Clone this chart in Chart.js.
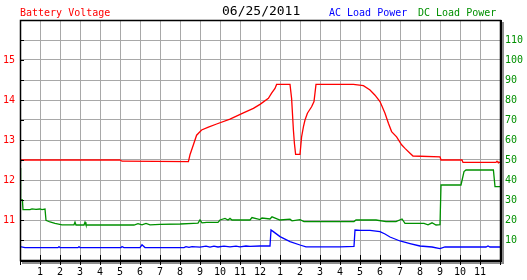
<!DOCTYPE html>
<html>
<head>
<meta charset="utf-8">
<script src="https://cdn.jsdelivr.net/npm/chart.js@4/dist/chart.umd.min.js"></script>
<style>
  body { margin: 0; background: #fff; }
  #wrap { position: relative; width: 527px; height: 280px; font-family: "DejaVu Sans Mono", monospace; }
  #chart { position: absolute; left: 0; top: 0; }
  .hdr { position: absolute; font-size: 10px; line-height: 10px; white-space: nowrap; }
</style>
</head>
<body>
<div id="wrap">
  <canvas id="chart" width="527" height="280"></canvas>
  <div class="hdr" style="left:20px;top:8px;color:#ff0000">Battery Voltage</div>
  <div class="hdr" style="left:222px;top:4px;font-size:13px;line-height:13px;color:#000">06/25/2011</div>
  <div class="hdr" style="left:329px;top:8px;color:#0000ff">AC Load Power</div>
  <div class="hdr" style="left:418px;top:8px;color:#009000">DC Load Power</div>
</div>
<script>
// tick labels
const hourTicks = ['', '1', '2', '3', '4', '5', '6', '7', '8', '9', '10', '11', '12',
                   '1', '2', '3', '4', '5', '6', '7', '8', '9', '10', '11', ''];
const voltTicks = [11, 12, 13, 14, 15];
const powerTicks = [10, 20, 30, 40, 50, 60, 70, 80, 90, 100, 110];

// battery voltage (left axis, V) against hour of day
const voltHours = [0, 0.03, 5.0, 5.1, 8.42, 8.5, 8.67, 8.83, 9.08, 9.42, 9.83, 10.5, 11.17, 11.67,
                   12.0, 12.42, 12.58, 12.75, 12.83, 13.5, 13.58, 13.67, 13.72, 13.78, 14.0, 14.08,
                   14.17, 14.25, 14.37, 14.58, 14.7, 14.8, 16.67, 17.17, 17.5, 17.75, 18.0, 18.25,
                   18.42, 18.58, 18.83, 19.08, 19.25, 19.5, 19.65, 21.0, 21.05, 22.1, 22.15, 23.8,
                   23.85, 23.9, 24];
const voltValues = [12.45, 12.5, 12.5, 12.47, 12.46, 12.63, 12.88, 13.12, 13.25, 13.32, 13.4, 13.52,
                    13.68, 13.79, 13.89, 14.04, 14.17, 14.29, 14.39, 14.39, 14.04, 13.25, 12.92, 12.64,
                    12.64, 13.08, 13.33, 13.5, 13.67, 13.83, 13.96, 14.39, 14.39, 14.36, 14.25, 14.12,
                    13.96, 13.67, 13.42, 13.21, 13.08, 12.88, 12.79, 12.67, 12.6, 12.58, 12.5, 12.5,
                    12.44, 12.44, 12.47, 12.44, 12.44];

// AC load power (right axis, W)
const acHours = [0, 0.25, 1.9, 1.95, 2.0, 2.9, 2.95, 3.0, 5.05, 5.1, 5.2, 6.0, 6.1, 6.25, 8.2, 8.3,
                 8.45, 8.6, 9.0, 9.3, 9.5, 9.7, 9.9, 10.2, 10.5, 10.8, 11.0, 11.3, 11.5, 12.0, 12.5,
                 12.55, 12.65, 13.0, 13.5, 14.0, 14.3, 16.0, 16.7, 16.75, 17.0, 17.5, 18.0, 18.25,
                 18.5, 19.0, 19.5, 20.0, 20.6, 21.0, 21.25, 23.3, 23.4, 23.5, 24];
const acValues = [6.7, 6.2, 6.2, 6.7, 6.2, 6.2, 6.7, 6.2, 6.2, 6.7, 6.2, 6.2, 7.6, 6.2, 6.2, 6.7,
                  6.3, 6.7, 6.4, 6.9, 6.4, 6.9, 6.5, 6.9, 6.6, 6.9, 6.6, 7.0, 6.8, 7.0, 7.0,
                  15.0, 14.3, 11.7, 9.2, 7.5, 6.6, 6.6, 6.8, 15.0, 14.8, 14.8, 14.2, 13.0,
                  11.5, 9.5, 8.2, 7.0, 6.5, 5.7, 6.5, 6.5, 7.0, 6.5, 6.5];

// DC load power (right axis, W)
const dcHours = [0, 0.03, 0.12, 0.15, 0.5, 0.6, 0.8, 1.0, 1.1, 1.25, 1.3, 1.5, 1.75, 2.1, 2.7, 2.75,
                 2.8, 3.2, 3.25, 3.3, 5.7, 5.9, 6.1, 6.3, 6.5, 7.0, 8.0, 8.67, 8.9, 9.0, 9.1, 9.33,
                 9.9, 10.0, 10.25, 10.4, 10.5, 10.6, 11.5, 11.6, 12.0, 12.1, 12.5, 12.6, 13.0, 13.5,
                 13.6, 14.0, 14.2, 16.7, 16.8, 17.8, 18.3, 18.8, 19.1, 19.25, 20.2, 20.4, 20.6,
                 20.8, 21.0, 21.05, 22.05, 22.2, 22.3, 23.67, 23.75, 24];
const dcValues = [46, 30, 30, 25.2, 25.2, 25.6, 25.3, 25.5, 25.2, 25.5, 19.8, 19.0, 18.3, 17.6, 17.6,
                  18.9, 17.5, 17.5, 18.9, 17.5, 17.5, 18.2, 17.6, 18.3, 17.6, 17.8, 18.0, 18.3, 18.4,
                  20.0, 18.6, 18.8, 18.8, 20.0, 20.8, 20.0, 20.8, 20.0, 20.0, 21.2, 20.2, 21.0, 20.5,
                  21.6, 20.0, 20.4, 19.6, 20.2, 19.2, 19.2, 20.0, 20.0, 19.2, 19.2, 20.5, 18.3, 18.3,
                  17.6, 18.6, 17.5, 17.7, 37.5, 37.5, 44.2, 45, 45, 36.7, 36.7];

const toPoints = (xs, ys) => xs.map((x, i) => ({ x, y: ys[i] }));

const gridColor = '#a8a8a8';
const font = { family: '"DejaVu Sans Mono", monospace', size: 10 };

// black frame with drop shadow plus inner tick marks, like the old gd charts
const framePlugin = {
  id: 'frame',
  afterDraw(chart) {
    const { ctx, chartArea: a, scales } = chart;
    ctx.save();
    ctx.fillStyle = '#8c8c8c';
    ctx.fillRect(a.right + 2, a.top + 2, 2, a.bottom - a.top + 2);
    ctx.fillRect(a.left + 2, a.bottom + 2, a.right - a.left + 2, 2);

    ctx.strokeStyle = '#000';
    ctx.lineWidth = 1;
    ctx.beginPath();
    scales.y.ticks.forEach(t => {
      const y = Math.round(scales.y.getPixelForValue(t.value)) + 0.5;
      ctx.moveTo(a.left, y);
      ctx.lineTo(a.left + 4, y);
    });
    scales.x.ticks.forEach(t => {
      const x = Math.round(scales.x.getPixelForValue(t.value)) + 0.5;
      ctx.moveTo(x, a.bottom - 5);
      ctx.lineTo(x, a.bottom + 5);
    });
    ctx.stroke();

    ctx.lineWidth = 1.5;
    ctx.strokeRect(a.left + 0.5, a.top + 0.5, a.right - a.left, a.bottom - a.top);
    ctx.fillStyle = '#000';
    ctx.fillRect(a.right, a.top, 2, a.bottom - a.top + 2);
    ctx.fillRect(a.left, a.bottom, a.right - a.left + 2, 2);
    ctx.restore();
  }
};

new Chart(document.getElementById('chart'), {
  type: 'line',
  data: {
    datasets: [
      { label: 'Battery Voltage', data: toPoints(voltHours, voltValues), yAxisID: 'y',
        borderColor: '#ff0000', borderWidth: 1.3, pointRadius: 0, tension: 0 },
      { label: 'DC Load Power', data: toPoints(dcHours, dcValues), yAxisID: 'y1',
        borderColor: '#009000', borderWidth: 1.3, pointRadius: 0, tension: 0 },
      { label: 'AC Load Power', data: toPoints(acHours, acValues), yAxisID: 'y1',
        borderColor: '#0000ff', borderWidth: 1.3, pointRadius: 0, tension: 0 }
    ]
  },
  options: {
    responsive: false,
    animation: false,
    devicePixelRatio: 1,
    layout: { padding: { top: 20, left: 0, right: 0, bottom: 0 } },
    plugins: { legend: { display: false }, tooltip: { enabled: false } },
    scales: {
      x: {
        type: 'linear', min: 0, max: 24,
        afterBuildTicks: s => { s.ticks = hourTicks.map((_, i) => ({ value: i })); },
        afterFit: s => { s.height = 20; },
        ticks: { autoSkip: false, maxRotation: 0, padding: 6, color: '#000', font,
                 callback: v => hourTicks[v] },
        grid: { color: gridColor, lineWidth: 1, drawTicks: false },
        border: { display: false }
      },
      y: {
        position: 'left', min: 10, max: 16,
        afterFit: s => { s.width = 20; },
        ticks: { stepSize: 0.5, padding: 5, color: '#ff0000', font,
                 callback: v => voltTicks.includes(v) ? String(v) : '' },
        grid: { color: gridColor, lineWidth: 1, drawTicks: false },
        border: { display: false }
      },
      y1: {
        position: 'right', min: 0, max: 120,
        afterFit: s => { s.width = 27; },
        ticks: { stepSize: 10, padding: 5, color: '#009000', font,
                 callback: v => powerTicks.includes(v) ? String(v) : '' },
        grid: { display: false, drawTicks: false },
        border: { display: false }
      }
    }
  },
  plugins: [framePlugin]
});
</script>
</body>
</html>
